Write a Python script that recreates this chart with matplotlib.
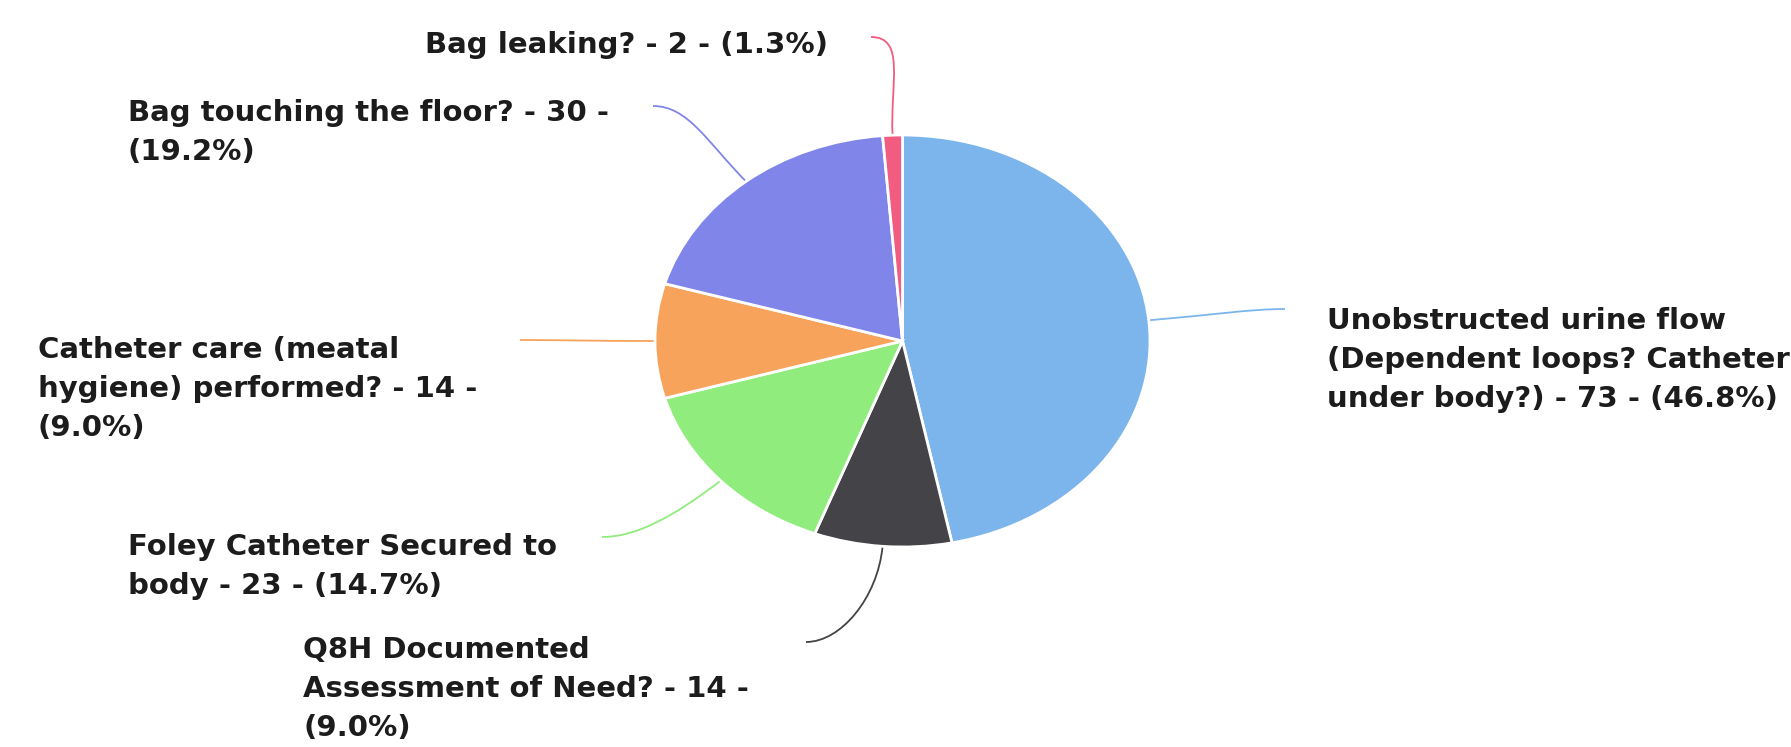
import matplotlib
matplotlib.use('Agg')
import matplotlib.pyplot as plt
from matplotlib.path import Path
from matplotlib.patches import PathPatch
import numpy as np

# Slices, clockwise from 12 o'clock
NAMES = ['Unobstructed urine flow\n(Dependent loops? Catheter\nunder body?)',
         'Q8H Documented\nAssessment of Need?',
         'Foley Catheter Secured to\nbody',
         'Catheter care (meatal\nhygiene) performed?',
         'Bag touching the floor?',
         'Bag leaking?']
COUNTS = [73, 14, 23, 14, 30, 2]
PCT_ON_NEW_LINE = [False, True, False, True, True, False]
COLORS = ['#7cb5ec', '#434348', '#90ed7d', '#f7a35c', '#8085e9', '#f15c80']

W, H = 1791, 747
# layout in image pixels (origin top-left); label y = baseline of the last line
PIE_BOX = (655, 135, 1150, 547)          # left, top, right, bottom
LABEL_XY = [(1327, 407), (303, 736), (128, 594), (38, 436), (128, 160), (425, 53)]
CONNECTOR_END = [(1285, 309), (806, 642), (602, 537), (520, 340), (653, 106), (871, 37)]

fig = plt.figure(figsize=(W / 100, H / 100), dpi=100)
fig.patch.set_facecolor('white')

# full-figure overlay for labels and connectors, pixel coords
overlay = fig.add_axes([0, 0, 1, 1])
overlay.set_xlim(0, W)
overlay.set_ylim(H, 0)
overlay.axis('off')

l, t, r, b = PIE_BOX
ax = fig.add_axes([l / W, 1 - b / H, (r - l) / W, (b - t) / H])
wedges, _ = ax.pie(COUNTS, colors=COLORS, startangle=90, counterclock=False,
                   wedgeprops=dict(edgecolor='white', linewidth=2))
ax.set_aspect('auto')  # reference pie is stretched horizontally
ax.set_xlim(-1, 1)
ax.set_ylim(-1, 1)
ax.axis('off')

to_px = overlay.transData.inverted()
total = sum(COUNTS)

for i, w in enumerate(wedges):
    th = np.deg2rad((w.theta1 + w.theta2) / 2)
    p_edge = to_px.transform(ax.transData.transform((np.cos(th), np.sin(th))))
    p_out = to_px.transform(ax.transData.transform((1.25 * np.cos(th), 1.25 * np.sin(th))))
    lx, ly = CONNECTOR_END[i]
    sign = 1 if p_edge[0] > lx else -1
    verts = [(lx, ly), (lx + sign * 35, ly), tuple(p_out), tuple(p_edge)]
    codes = [Path.MOVETO, Path.CURVE4, Path.CURVE4, Path.CURVE4]
    overlay.add_patch(PathPatch(Path(verts, codes), fill=False, edgecolor=COLORS[i],
                                linewidth=1.3, zorder=1))

    pct = 100.0 * COUNTS[i] / total
    sep = '\n' if PCT_ON_NEW_LINE[i] else ' '
    label = '%s - %d -%s(%.1f%%)' % (NAMES[i], COUNTS[i], sep, pct)
    x, y = LABEL_XY[i]
    overlay.text(x, y, label, ha='left', va='baseline', fontsize=21, fontweight='bold',
                 family='DejaVu Sans', linespacing=1.5, color='#1c1c1c')

fig.savefig('out.png', dpi=100)
